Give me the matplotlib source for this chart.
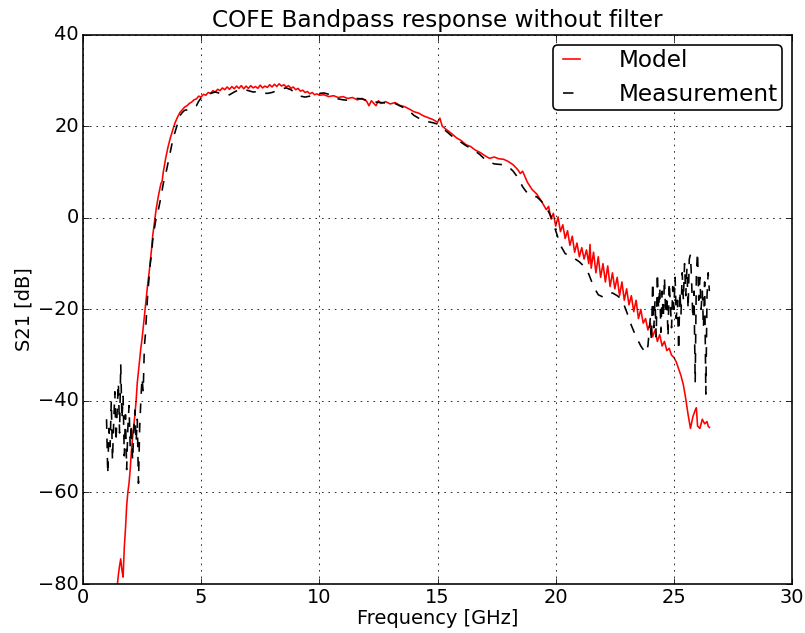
import matplotlib
matplotlib.use('Agg')
import matplotlib.pyplot as plt
import numpy as np

# model curve
model_f = [1.45, 1.50, 1.55, 1.60, 1.65, 1.70, 1.75, 1.80, 1.85, 1.90, 1.95, 2.00, 2.05, 2.10,
           2.15, 2.20, 2.25, 2.30, 2.35, 2.40, 2.45, 2.50, 2.55, 2.60, 2.65, 2.70, 2.75, 2.80,
           2.85, 2.90, 2.95, 3.00, 3.10, 3.20, 3.30, 3.35, 3.40, 3.50, 3.60, 3.70, 3.80, 3.90,
           4.00, 4.10, 4.20, 4.30, 4.40, 4.50, 4.60, 4.70, 4.80, 4.90, 5.00, 5.10, 5.20, 5.30,
           5.40, 5.50, 5.60, 5.70, 5.80, 5.90, 6.00, 6.10, 6.20, 6.30, 6.40, 6.50, 6.60, 6.70,
           6.80, 6.90, 7.00, 7.10, 7.20, 7.30, 7.40, 7.50, 7.60, 7.70, 7.80, 7.90, 8.00, 8.10,
           8.20, 8.30, 8.40, 8.50, 8.60, 8.70, 8.80, 8.90, 9.00, 9.10, 9.20, 9.30, 9.40, 9.50,
           9.60, 9.70, 9.80, 9.90, 10.0, 10.2, 10.4, 10.6, 10.8, 11.0, 11.2, 11.4, 11.6, 11.8,
           12.0, 12.1, 12.2, 12.4, 12.5, 12.6, 12.8, 13.0, 13.2, 13.4, 13.6, 13.8, 14.0, 14.2,
           14.4, 14.6, 14.8, 15.0, 15.1, 15.2, 15.4, 15.6, 15.8, 16.0, 16.2, 16.4, 16.6, 16.8,
           17.0, 17.2, 17.4, 17.6, 17.8, 18.0, 18.2, 18.4, 18.5, 18.6, 18.8, 19.0, 19.2, 19.4,
           19.6, 19.7, 19.8, 19.9, 20.0, 20.1, 20.2, 20.3, 20.4, 20.5, 20.6, 20.7, 20.8, 20.9,
           21.0, 21.1, 21.2, 21.3, 21.4, 21.45, 21.5, 21.6, 21.7, 21.8, 21.9, 22.0, 22.1, 22.2,
           22.3, 22.4, 22.5, 22.6, 22.7, 22.8, 22.9, 23.0, 23.1, 23.2, 23.3, 23.4, 23.5, 23.6,
           23.7, 23.8, 23.9, 24.0, 24.1, 24.2, 24.3, 24.4, 24.5, 24.6, 24.7, 24.8, 24.9, 25.0,
           25.1, 25.2, 25.3, 25.4, 25.5, 25.6, 25.7, 25.8, 25.9, 25.95, 26.0, 26.1, 26.2, 26.3,
           26.4, 26.45, 26.5]
model_db = [-80.5, -78, -76, -74.5, -77, -78.5, -72, -68, -63, -60, -58, -55, -51, -48,
            -45.5, -43, -40, -36, -33.5, -31, -28.5, -26.5, -24, -21.5, -19, -16.5, -14, -12,
            -9.5, -7, -4, -2, 2, 5, 7.5, 8, 10, 13, 15.5, 17.5, 19.2, 20.8,
            22, 23, 23.6, 24.2, 24.5, 25, 25.3, 25.8, 26, 26.6, 26.4, 27, 26.8, 27.4,
            27.2, 27.8, 27.5, 28.1, 27.8, 28.4, 28, 28.6, 28.1, 28.7, 28.2, 28.8, 28.3, 28.9,
            28.2, 28.8, 28.3, 28.9, 28.4, 28.7, 28.3, 29, 28.4, 28.8, 28.5, 29.1, 28.6, 29.2,
            28.7, 29.3, 28.8, 29.1, 28.6, 28.9, 28.3, 28.6, 28, 28.3, 27.7, 27.9, 27.4, 27.6,
            27.1, 27.4, 26.9, 27.1, 26.8, 26.9, 26.5, 26.7, 26.3, 26.5, 26.1, 26.3, 25.8, 26.1,
            25.5, 24.5, 25.6, 24.5, 25.6, 25.0, 25.4, 24.9, 25.2, 24.6, 24.3, 23.8, 23.2, 22.9,
            22.3, 21.9, 21.5, 20.9, 21.8, 20, 19.2, 18.4, 17.5, 16.9, 16.0, 15.6, 14.8, 14.3,
            13.6, 13.0, 13.3, 12.9, 12.8, 12.3, 11.6, 10.5, 9.7, 10.2, 7.8, 6.2, 5.2, 3.6,
            1.8, 2.5, -0.2, 1, -1.8, 0.2, -3, -1.5, -4.5, -2.8, -6, -4, -7.5, -5.5,
            -8.5, -6.5, -9, -7, -10, -5.8, -11, -7.5, -12, -8.5, -13, -10, -14, -10.5,
            -15, -12, -15.5, -13, -17, -14, -18, -15.5, -19, -17, -20.5, -18, -22, -20,
            -23, -22, -24.5, -23, -26, -24.5, -27, -25.5, -28, -27, -29, -28.5, -30, -30.5,
            -31.5, -33, -34.5, -36.5, -39.5, -43, -46, -43.5, -42, -41.5, -45.5, -46, -44, -45,
            -44.5, -45.5, -45.8]

# measured curve
meas_f = [1.0, 1.05, 1.1, 1.15, 1.2, 1.25, 1.3, 1.35, 1.4, 1.45, 1.5, 1.55, 1.6, 1.65,
          1.7, 1.75, 1.8, 1.85, 1.9, 1.95, 2.0, 2.05, 2.1, 2.15, 2.2, 2.25, 2.3, 2.35,
          2.4, 2.45, 2.5, 2.55, 2.6, 2.65, 2.7, 2.75, 2.8, 2.85, 2.9, 2.95, 3.0, 3.1,
          3.2, 3.3, 3.4, 3.5, 3.6, 3.7, 3.8, 3.9, 4.0, 4.1, 4.2, 4.3, 4.4, 4.5,
          4.6, 4.7, 4.8, 4.9, 5.0, 5.2, 5.4, 5.6, 5.8, 6.0, 6.2, 6.4, 6.6, 6.8,
          7.0, 7.2, 7.4, 7.6, 7.8, 8.0, 8.2, 8.4, 8.6, 8.8, 9.0, 9.2, 9.4, 9.6,
          9.8, 10.0, 10.2, 10.4, 10.6, 10.8, 11.0, 11.2, 11.4, 11.6, 11.8, 12.0, 12.2, 12.4,
          12.6, 12.8, 13.0, 13.2, 13.4, 13.6, 13.8, 14.0, 14.2, 14.4, 14.6, 14.8, 15.0, 15.2,
          15.4, 15.6, 15.8, 16.0, 16.2, 16.4, 16.6, 16.8, 17.0, 17.2, 17.4, 17.6, 17.8, 18.0,
          18.2, 18.4, 18.6, 18.8, 19.0, 19.2, 19.4, 19.6, 19.8, 20.0, 20.2, 20.4, 20.6, 20.8,
          21.0, 21.2, 21.4, 21.6, 21.8, 22.0, 22.2, 22.4, 22.6, 22.8, 23.0, 23.2, 23.4, 23.6,
          23.8, 23.9, 24.0, 24.05, 24.1, 24.15, 24.2, 24.25, 24.3, 24.35, 24.4, 24.45, 24.5, 24.55,
          24.6, 24.65, 24.7, 24.75, 24.8, 24.85, 24.9, 24.95, 25.0, 25.05, 25.1, 25.15, 25.2, 25.25,
          25.3, 25.35, 25.4, 25.45, 25.5, 25.55, 25.6, 25.65, 25.7, 25.75, 25.8, 25.85, 25.9, 25.95,
          26.0, 26.05, 26.1, 26.15, 26.2, 26.25, 26.3, 26.35, 26.4, 26.45, 26.5]
meas_db = [-44, -56, -46, -50, -40, -53, -45, -38, -49, -42, -36, -47, -32, -44,
           -39, -52, -43, -55, -46, -41, -50, -45, -53, -47, -42, -49, -44, -58,
           -46, -40, -35, -38, -28, -25, -20, -16, -13, -10, -8, -5, -3, 0,
           2, 4.5, 7.5, 9.5, 12, 14.5, 17, 18.8, 20.5, 22.3, 23, 23.5, 23.6, 23.8,
           23.9, 24.2, 24.5, 25.5, 26.2, 26.7, 27.2, 27.5, 27.2, 26.8, 26.9, 27.5, 28, 28.1,
           27.8, 27.5, 27.6, 27.3, 27.2, 27.4, 27.8, 28.2, 28.4, 28, 27.2, 26.6, 26.4, 26.6,
           27, 27.2, 27.3, 27, 26.5, 26, 25.8, 25.7, 25.9, 26.1, 26, 25.7, 25.4, 25.3,
           25.2, 25.1, 25.2, 25.0, 24.5, 24, 23.4, 22.4, 21.8, 21.3, 21.0, 20.8, 20.5, 19.6,
           18.8, 17.9, 17.2, 16.5, 15.8, 15.2, 14.6, 13.8, 12.8, 12.2, 11.8, 11.7, 11.6, 11.2,
           10.2, 8.8, 6.8, 5.4, 4.8, 4.6, 3.6, 2.3, 0.3, -2.8, -6, -7.8, -8.3, -8.9,
           -9.6, -10.6, -12.3, -15, -16.8, -17.3, -16.6, -16.4, -17, -17.8, -20.5, -23.5, -26, -28,
           -29.5, -28, -22, -27, -14, -24, -18, -26, -12, -20, -15, -25, -16, -22,
           -13, -21, -17, -26, -14, -19, -24, -15, -20, -13, -22, -18, -29, -16,
           -21, -12, -18, -10, -17, -11, -20, -9, -8, -14, -22, -16, -36, -12,
           -7.5, -18, -13, -20, -16, -24, -14, -38.5, -17, -12, -16]

plt.style.use('classic')
plt.rcParams['figure.facecolor'] = 'white'
plt.rcParams['savefig.facecolor'] = 'white'
plt.rcParams['xtick.major.pad'] = 2.5
plt.rcParams['ytick.major.pad'] = 2.5

DPI = 116
fig = plt.figure(figsize=(805 / DPI, 633 / DPI), dpi=DPI)
ax = fig.add_axes([0.103, 0.0774, 0.881, 0.8676])

ax.plot(model_f, model_db, 'r-', label='Model')
ax.plot(meas_f, meas_db, 'k--', label='Measurement')

ax.set_xlim(0, 30)
ax.set_ylim(-80, 40)
ax.set_xticks(np.arange(0, 31, 5))
ax.set_yticks(np.arange(-80, 41, 20))
ax.grid(True)
ax.set_xlabel('Frequency [GHz]', labelpad=1)
ax.set_ylabel('S21 [dB]', labelpad=3)
ax.set_title('COFE Bandpass response without filter')
leg = ax.legend(loc='upper right', fancybox=True, borderpad=0.15,
                handlelength=1.3, handletextpad=1.4, borderaxespad=0.45)
leg.get_lines()[1].set_dashes((6.5, 5.5))

fig.savefig('out.png', dpi=DPI)
